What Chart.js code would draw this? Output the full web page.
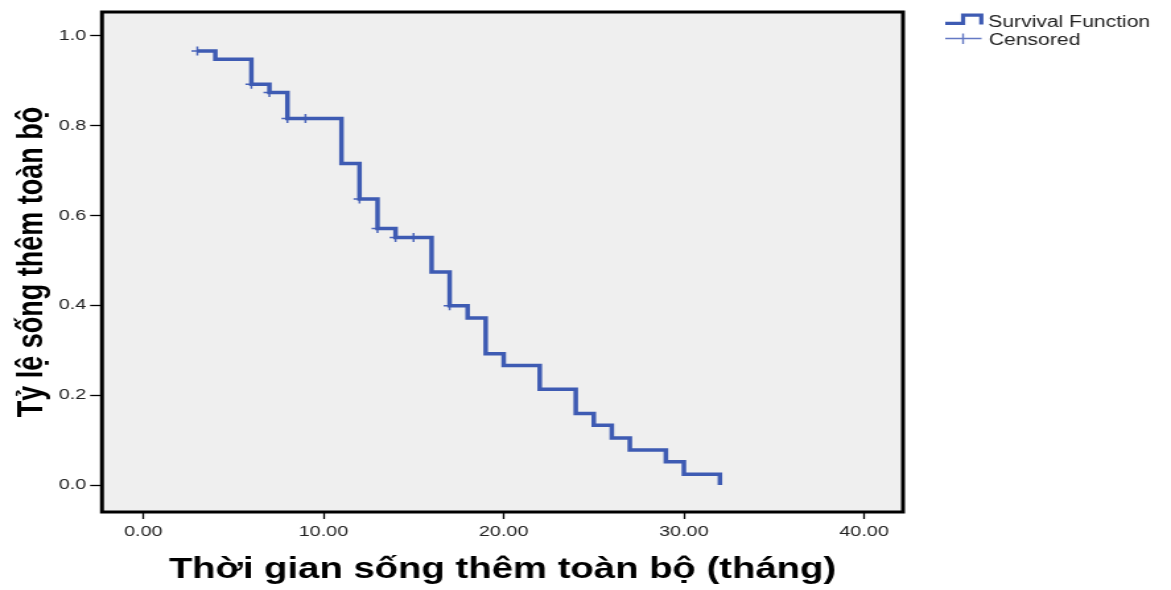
<!DOCTYPE html>
<html><head><meta charset="utf-8">
<script src="https://cdn.jsdelivr.net/npm/chart.js@4.4.1/dist/chart.umd.min.js"></script>
<style>
html,body{margin:0;padding:0;background:#fff;overflow:hidden;width:1171px;height:590px;}
#wrap{position:absolute;left:0;top:0;width:887px;height:590px;transform:scaleX(1.32018);transform-origin:0 0;}
</style></head><body>
<div id="wrap"><canvas id="c"></canvas></div>
<script>
// Kaplan-Meier step points (time in months, survival after the event)
const times    = [3, 4, 6, 7, 8, 11, 12, 13, 14, 16, 17, 18, 19, 20, 22, 24, 25, 26, 27, 29, 30, 32];
const survival = [0.966, 0.948, 0.892, 0.874, 0.816, 0.716, 0.637, 0.571, 0.551, 0.474, 0.399, 0.372, 0.292, 0.266, 0.213, 0.159, 0.133, 0.105, 0.078, 0.052, 0.024, 0.0];
// Censored observations
const censorTimes    = [3, 6, 7, 8, 9, 12, 13, 14, 15, 17];
const censorSurvival = [0.966, 0.892, 0.874, 0.816, 0.816, 0.637, 0.571, 0.551, 0.551, 0.399];
// Axis ticks
const xTickValues = [0, 10, 20, 30, 40];
const xTickLabels = ['0.00', '10.00', '20.00', '30.00', '40.00'];
const yTickValues = [0, 0.2, 0.4, 0.6, 0.8, 1.0];
const yTickLabels = ['0.0', '0.2', '0.4', '0.6', '0.8', '1.0'];
const seriesNames = ['Survival Function', 'Censored'];
const xTitle = 'Thời gian sống thêm toàn bộ (tháng)';
const yTitle = 'Tỷ lệ sống thêm toàn bộ';

const LINE = '#3e5bb3';
const CENS = '#4a64ba';
const FONT = '"Liberation Sans", Arial, sans-serif';

const framePlugin = {
  id: 'frame',
  beforeDraw(chart) {
    const {ctx, chartArea: a} = chart;
    ctx.save();
    ctx.fillStyle = '#efefef';
    ctx.fillRect(a.left, a.top, a.right - a.left, a.bottom - a.top);
    ctx.restore();
  },
  afterDatasetsDraw(chart) {
    const {ctx, chartArea: a} = chart;
    ctx.save();
    ctx.strokeStyle = '#000';
    ctx.lineWidth = 3;
    ctx.strokeRect(a.left, a.top, a.right - a.left, a.bottom - a.top);
    ctx.restore();
  },
  afterDraw(chart) {
    const ctx = chart.ctx;
    ctx.save();
    // Survival Function icon (step)
    ctx.strokeStyle = LINE;
    ctx.lineWidth = 3.2;
    ctx.lineJoin = 'miter';
    ctx.beginPath();
    ctx.moveTo(716, 23.3);
    ctx.lineTo(729.5, 23.3);
    ctx.lineTo(729.5, 15.2);
    ctx.lineTo(743.3, 15.2);
    ctx.lineTo(743.3, 24.5);
    ctx.stroke();
    // Censored icon (cross)
    ctx.strokeStyle = '#6479c4';
    ctx.lineWidth = 1.4;
    ctx.beginPath();
    ctx.moveTo(716, 38.5);
    ctx.lineTo(743.5, 38.5);
    ctx.moveTo(729.5, 33.5);
    ctx.lineTo(729.5, 44);
    ctx.stroke();
    ctx.fillStyle = '#222';
    ctx.font = '16px ' + FONT;
    ctx.textAlign = 'left';
    ctx.textBaseline = 'alphabetic';
    ctx.fillText(seriesNames[0], 748.5, 26.5);
    ctx.fillText(seriesNames[1], 749, 44.5);
    ctx.restore();
  }
};

new Chart(document.getElementById('c'), {
  type: 'line',
  data: {
    datasets: [
      {
        label: seriesNames[0],
        data: times.map((t, i) => ({x: t, y: survival[i]})),
        stepped: true,
        borderColor: LINE,
        backgroundColor: LINE,
        borderWidth: 3.5,
        pointRadius: 0,
        fill: false
      },
      {
        label: seriesNames[1],
        data: censorTimes.map((t, i) => ({x: t, y: censorSurvival[i]})),
        showLine: false,
        pointStyle: 'cross',
        pointRadius: 4.5,
        pointBorderWidth: 1.5,
        borderColor: CENS,
        backgroundColor: CENS
      }
    ]
  },
  options: {
    responsive: true,
    maintainAspectRatio: false,
    animation: false,
    devicePixelRatio: 1,
    layout: {padding: {top: 10, right: 203, bottom: 0, left: 0}},
    plugins: {legend: {display: false}, tooltip: {enabled: false}},
    scales: {
      x: {
        type: 'linear',
        min: -2.29,
        max: 42.16,
        afterFit(s) { s.height = 78; },
        afterBuildTicks(s) { s.ticks = xTickValues.map(v => ({value: v})); },
        ticks: {
          callback: (v) => xTickLabels[xTickValues.indexOf(v)],
          font: {family: FONT, size: 15},
          color: '#222',
          padding: 3.5,
          maxRotation: 0,
          autoSkip: false
        },
        grid: {display: true, drawOnChartArea: false, drawTicks: true, tickLength: 7, tickColor: '#000', tickWidth: 1.3},
        border: {display: false},
        title: {
          display: true,
          text: xTitle,
          font: {family: FONT, size: 29, weight: 'bold'},
          color: '#000',
          padding: {top: 0, bottom: 3}
        }
      },
      y: {
        type: 'linear',
        min: -0.06,
        max: 1.053,
        afterFit(s) { s.width = 77.26; },
        afterBuildTicks(s) { s.ticks = yTickValues.map(v => ({value: v})); },
        ticks: {
          callback: (v) => yTickLabels[yTickValues.indexOf(v)],
          font: {family: FONT, size: 15},
          color: '#222',
          padding: 3,
          autoSkip: false
        },
        grid: {display: true, drawOnChartArea: false, drawTicks: true, tickLength: 9, tickColor: '#000', tickWidth: 1.3},
        border: {display: false},
        title: {
          display: true,
          text: yTitle,
          font: {family: FONT, size: 27, weight: 'bold'},
          color: '#000',
          padding: {top: 8, bottom: 0}
        }
      }
    }
  },
  plugins: [framePlugin]
});
</script>
</body></html>
